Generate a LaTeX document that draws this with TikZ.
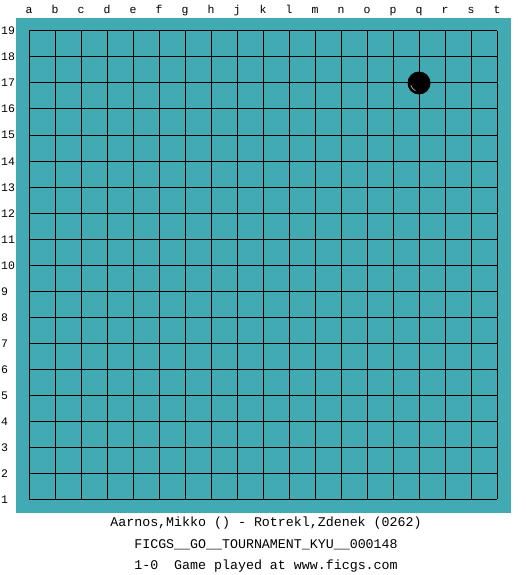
\documentclass[tikz,border=0pt]{standalone}
\usepackage{fontspec}
\setmonofont{Liberation Mono}
\definecolor{board}{RGB}{66,170,178}

\begin{document}
\begin{tikzpicture}[x=1pt,y=-1pt,
  lbl/.style={font=\ttfamily\fontsize{11.5}{12}\selectfont,inner sep=0pt,anchor=base},
  info/.style={font=\ttfamily\fontsize{13.3}{16}\selectfont,inner sep=0pt}]
 \useasboundingbox (0,0) rectangle (525,575);
 \fill[board] (16,18) rectangle (511,513);

 \foreach \i in {0,...,18} {
  \draw[line width=1pt] (29+26*\i,31) -- (29+26*\i,499);
  \draw[line width=1pt] (29,31+26*\i) -- (497,31+26*\i);
 }

 \foreach \l [count=\i from 0] in {a,b,c,d,e,f,g,h,j,k,l,m,n,o,p,q,r,s,t}
  \node[lbl] (col-\l) at (29+26*\i,14) {\l};
 \foreach \n [count=\i from 0] in {19,18,...,1}
  \node[lbl,anchor=base west] (row-\n) at (1,35+26*\i) {\n};

 \node[circle,fill=black,minimum size=23pt,inner sep=0pt] (q17) at (419,83) {};
 \draw[gray!60,line width=0.7pt] (q17.center) ++(115:8.5) arc (115:165:8.5);

 \node[info] (players) at (266,523) {Aarnos,Mikko () - Rotrekl,Zdenek (0262)};
 \node[info] (event) at (266,545) {FICGS\_\_GO\_\_TOURNAMENT\_KYU\_\_000148};
 \node[info] (result) at (266,566) {1-0\ \ Game played at www.ficgs.com};
\end{tikzpicture}
\end{document}
